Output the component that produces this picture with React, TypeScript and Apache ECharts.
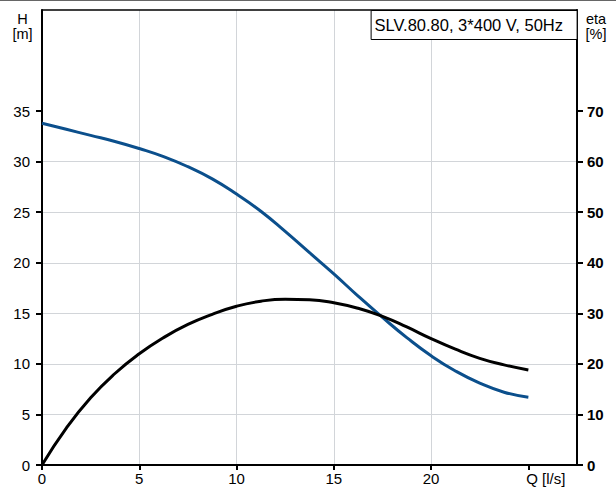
import React, { useEffect, useRef } from "react";
import * as echarts from "echarts";

// Flow Q [l/s]
const Q = [0, 1.25, 2.5, 3.75, 5, 6.25, 7.5, 8.75, 10, 11.25, 12.5, 13.75, 15, 16.25, 17.5, 18.75, 20, 21.25, 22.5, 23.75, 25];
// Head H [m]
const H = [33.8, 33.2, 32.6, 32.0, 31.3, 30.5, 29.5, 28.3, 26.8, 25.1, 23.1, 21.0, 18.9, 16.7, 14.6, 12.6, 10.8, 9.3, 8.1, 7.2, 6.7];
// Efficiency eta [%]
const ETA = [0, 7.3, 13.3, 18.1, 22.0, 25.2, 27.8, 29.8, 31.4, 32.4, 32.8, 32.7, 32.1, 31.0, 29.4, 27.3, 25.0, 22.9, 21.1, 19.8, 18.8];

const X_TICKS = [0, 5, 10, 15, 20, 25];
const H_TICKS = [0, 5, 10, 15, 20, 25, 30, 35];
const ETA_TICKS = [0, 10, 20, 30, 40, 50, 60, 70];
const X_LAST_LABEL = "Q [l/s]";
const TITLE = "SLV.80.80, 3*400 V, 50Hz";
const H_NAME = "H\n[m]";
const ETA_NAME = "eta\n[%]";

const FONT = '"Liberation Sans", Arial, sans-serif';

export default function App() {
  const ref = useRef<HTMLDivElement>(null);

  useEffect(() => {
    document.body.style.margin = "0";
    if (!ref.current) return;
    const chart = echarts.init(ref.current, undefined, { renderer: "svg" });
    const gridLine = { show: true, lineStyle: { color: "#d2d5d9", width: 1 }, showMinLine: false, showMaxLine: false };
    chart.setOption({
      animation: false,
      backgroundColor: "#fff",
      textStyle: { fontFamily: FONT },
      grid: { left: 42, right: 39, top: 10, bottom: 22, containLabel: false },
      title: {
        text: TITLE,
        right: 39,
        top: 10,
        backgroundColor: "#fff",
        borderColor: "#000",
        borderWidth: 1,
        padding: [6, 14, 7, 4],
        textStyle: { fontFamily: FONT, fontSize: 16.5, fontWeight: "normal", color: "#000" },
        z: 10,
      },
      graphic: [
        { type: "line", shape: { x1: 0, y1: 0.5, x2: 616, y2: 0.5 }, style: { stroke: "#666", lineWidth: 1 } },
        {
          type: "text",
          x: 22.5,
          y: 11,
          style: { text: H_NAME, fontFamily: FONT, fontSize: 14.5, lineHeight: 15, fill: "#000", align: "center", verticalAlign: "top" },
        },
        {
          type: "text",
          x: 596,
          y: 11,
          style: { text: ETA_NAME, fontFamily: FONT, fontSize: 14.5, lineHeight: 15, fill: "#000", align: "center", verticalAlign: "top" },
        },
      ],
      xAxis: [
        {
          type: "value",
          min: 0,
          max: 27.5,
          interval: 5,
          position: "bottom",
          axisLine: { show: true, onZero: false, lineStyle: { color: "#000", width: 2 } },
          axisTick: { show: true, length: 5, customValues: X_TICKS, lineStyle: { color: "#000", width: 2 } },
          axisLabel: {
            customValues: X_TICKS,
            margin: 6,
            fontSize: 15,
            color: "#000",
            fontFamily: FONT,
            hideOverlap: false,
            formatter: (v: number) => (v === 25 ? "{q|" + X_LAST_LABEL + "}" : String(v)),
            rich: { q: { fontSize: 15, fontFamily: FONT, color: "#000", padding: [0, 0, 0, 35] } },
          },
          splitLine: gridLine,
        },
        {
          type: "value",
          min: 0,
          max: 27.5,
          position: "top",
          axisLine: { show: true, onZero: false, lineStyle: { color: "#000", width: 1.5 } },
          axisTick: { show: false },
          axisLabel: { show: false },
          splitLine: { show: false },
        },
      ],
      yAxis: [
        {
          type: "value",
          min: 0,
          max: 45,
          interval: 5,
          position: "left",
          axisLine: { show: true, onZero: false, lineStyle: { color: "#000", width: 2 } },
          axisTick: { show: true, length: 6, customValues: H_TICKS, lineStyle: { color: "#000", width: 2 } },
          axisLabel: { customValues: H_TICKS, margin: 12, fontSize: 15, color: "#000", fontFamily: FONT },
          splitLine: gridLine,
        },
        {
          type: "value",
          min: 0,
          max: 90,
          interval: 10,
          position: "right",
          axisLine: { show: true, onZero: false, lineStyle: { color: "#000", width: 2 } },
          axisTick: { show: true, length: 6, customValues: ETA_TICKS, lineStyle: { color: "#000", width: 2 } },
          axisLabel: { customValues: ETA_TICKS, margin: 10, fontSize: 15, fontWeight: "bold", color: "#000", fontFamily: FONT },
          splitLine: { show: false },
        },
      ],
      series: [
        {
          type: "line",
          name: "H",
          xAxisIndex: 0,
          yAxisIndex: 0,
          data: Q.map((q, i) => [q, H[i]]),
          smooth: 0.5,
          showSymbol: false,
          lineStyle: { color: "#0b4f8c", width: 3 },
          itemStyle: { color: "#0b4f8c" },
        },
        {
          type: "line",
          name: "eta",
          xAxisIndex: 0,
          yAxisIndex: 1,
          data: Q.map((q, i) => [q, ETA[i]]),
          smooth: 0.5,
          showSymbol: false,
          lineStyle: { color: "#000", width: 3 },
          itemStyle: { color: "#000" },
        },
      ],
    });
    return () => chart.dispose();
  }, []);

  return <div ref={ref} style={{ width: 616, height: 487 }} />;
}
